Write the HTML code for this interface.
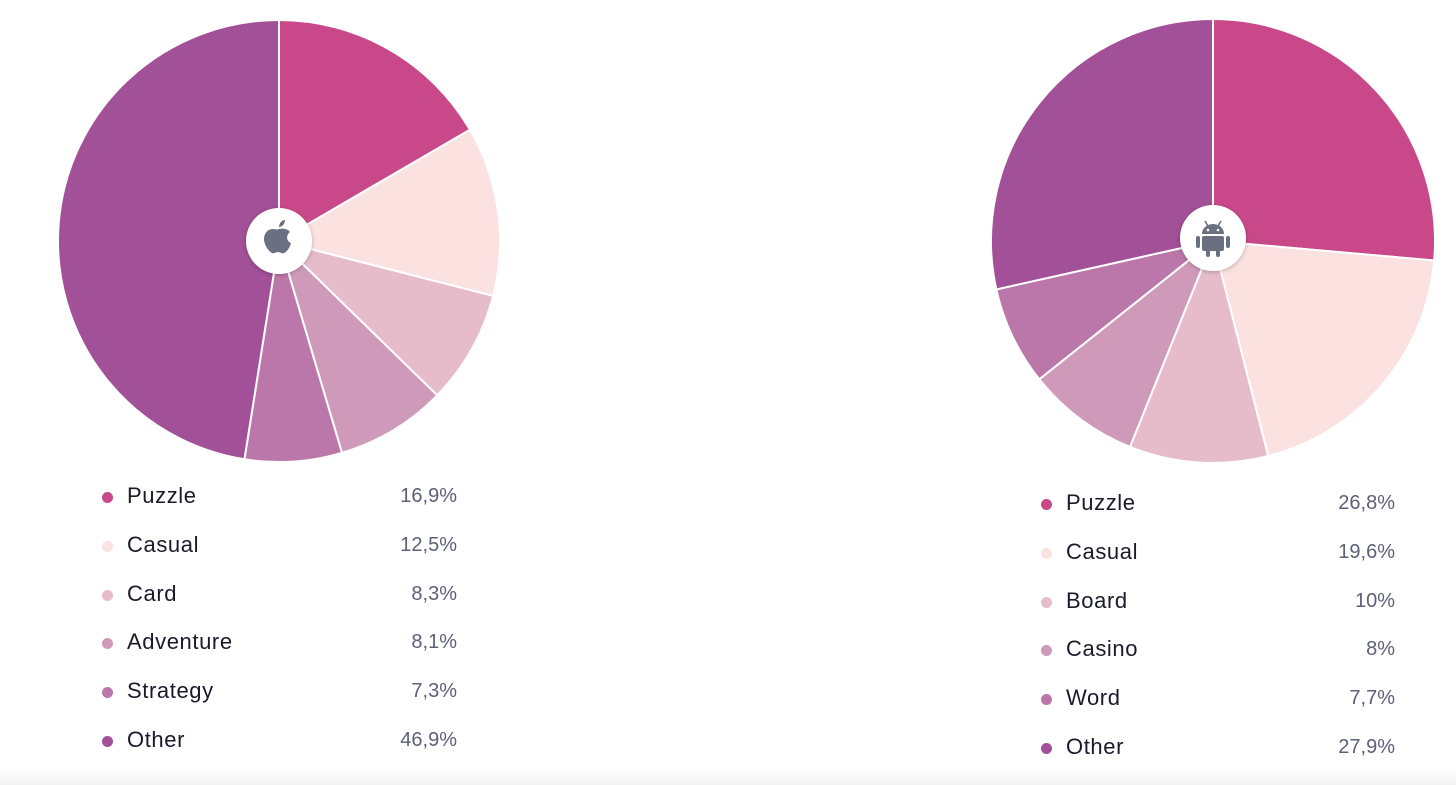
<!DOCTYPE html>
<html><head><meta charset="utf-8"><style>
html,body{margin:0;padding:0;background:#fff;}
body{width:1456px;height:785px;position:relative;overflow:hidden;font-family:"Liberation Sans",sans-serif;}
.row{position:absolute;height:30px;}
.dot{position:absolute;width:11px;height:11px;border-radius:50%;top:10px;}
.lab{position:absolute;font-size:22px;color:#1a1a2a;top:1px;letter-spacing:0.6px;}
.val{position:absolute;font-size:20px;color:#5c6079;top:3px;text-align:right;width:120px;}
.bot{position:absolute;left:0;top:768px;width:1456px;height:17px;background:linear-gradient(#fff,#f2f2f2);}
</style></head><body>
<svg id="s" width="1456" height="785" style="position:absolute;left:0;top:0">
<defs><filter id="sh" x="-50%" y="-50%" width="200%" height="200%"><feDropShadow dx="0" dy="1" stdDeviation="2" flood-color="#000" flood-opacity="0.25"/></filter></defs>
<g id="p1"></g><g id="p2"></g>
<circle cx="279" cy="241" r="33" fill="#fff" filter="url(#sh)"/>
<circle cx="1213" cy="238" r="33" fill="#fff" filter="url(#sh)"/>
<g fill="#6b6f82">
<path d="M279 229 c4 -1 9 0 11 3 c-4 3 -4 9 1 11 c-1 4 -4 9 -7 10 c-2 1 -4 -1 -6 -1 c-2 0 -4 2 -6 1 c-4 -2 -8 -9 -8 -14 c0 -6 4 -10 9 -10 c2 0 4 1 6 0z"/>
<path d="M279 227 c0 -4 3 -7 6 -7 c0 4 -3 7 -6 7z"/>
</g>
<g fill="#6b6f82">
<path d="M1202 234 a11 10 0 0 1 22 0z"/>
<rect x="1202" y="236" width="22" height="15" rx="2"/>
<rect x="1196" y="236" width="4" height="12" rx="2"/>
<rect x="1226" y="236" width="4" height="12" rx="2"/>
<rect x="1206" y="248" width="4" height="9" rx="2"/>
<rect x="1216" y="248" width="4" height="9" rx="2"/>
<line x1="1205" y1="221" x2="1208" y2="226" stroke="#6b6f82" stroke-width="1.5"/>
<line x1="1221" y1="221" x2="1218" y2="226" stroke="#6b6f82" stroke-width="1.5"/>
</g>
<circle cx="1208" cy="230" r="1.3" fill="#fff"/><circle cx="1218" cy="230" r="1.3" fill="#fff"/>
</svg>
<div class="bot"></div>
<div id="leg"></div>
<script>
var cols=["#c9488a","#fbe1e0","#e6bccb","#cf9aba","#bb77a9","#a25097"];
function pie(id,cx,cy,r,cum){
 var g=document.getElementById(id),h="",prev=0;
 for(var i=0;i<cum.length;i++){
  var a0=prev/100*2*Math.PI,a1=cum[i]/100*2*Math.PI;prev=cum[i];
  var x0=cx+r*Math.sin(a0),y0=cy-r*Math.cos(a0),x1=cx+r*Math.sin(a1),y1=cy-r*Math.cos(a1);
  var lg=(a1-a0)>Math.PI?1:0;
  h+='<path d="M'+cx+' '+cy+' L'+x0+' '+y0+' A'+r+' '+r+' 0 '+lg+' 1 '+x1+' '+y1+'Z" fill="'+cols[i]+'" stroke="#fff" stroke-width="2"/>';
 }
 g.innerHTML=h;
}
pie("p1",279,241,221,[16.6,29.0,37.3,45.4,52.5,100]);
pie("p2",1213,241,222,[26.4,46.0,56.1,64.3,71.5,100]);
function leg(x,dotx,valr,y0,labs,vals){
 var h="";
 for(var i=0;i<6;i++){
  var y=y0+i*48.8;
  h+='<div class="row" style="left:0;top:'+(y-15)+'px;width:1456px">'+
   '<div class="dot" style="left:'+(dotx-5)+'px;background:'+cols[i]+'"></div>'+
   '<div class="lab" style="left:'+x+'px">'+labs[i]+'</div>'+
   '<div class="val" style="left:'+(valr-120)+'px">'+vals[i]+'</div></div>';
 }
 return h;
}
document.getElementById("leg").innerHTML=
 leg(127,107,457,497,["Puzzle","Casual","Card","Adventure","Strategy","Other"],["16,9%","12,5%","8,3%","8,1%","7,3%","46,9%"])+
 leg(1066,1046,1395,504,["Puzzle","Casual","Board","Casino","Word","Other"],["26,8%","19,6%","10%","8%","7,7%","27,9%"]);
</script>
</body></html>
